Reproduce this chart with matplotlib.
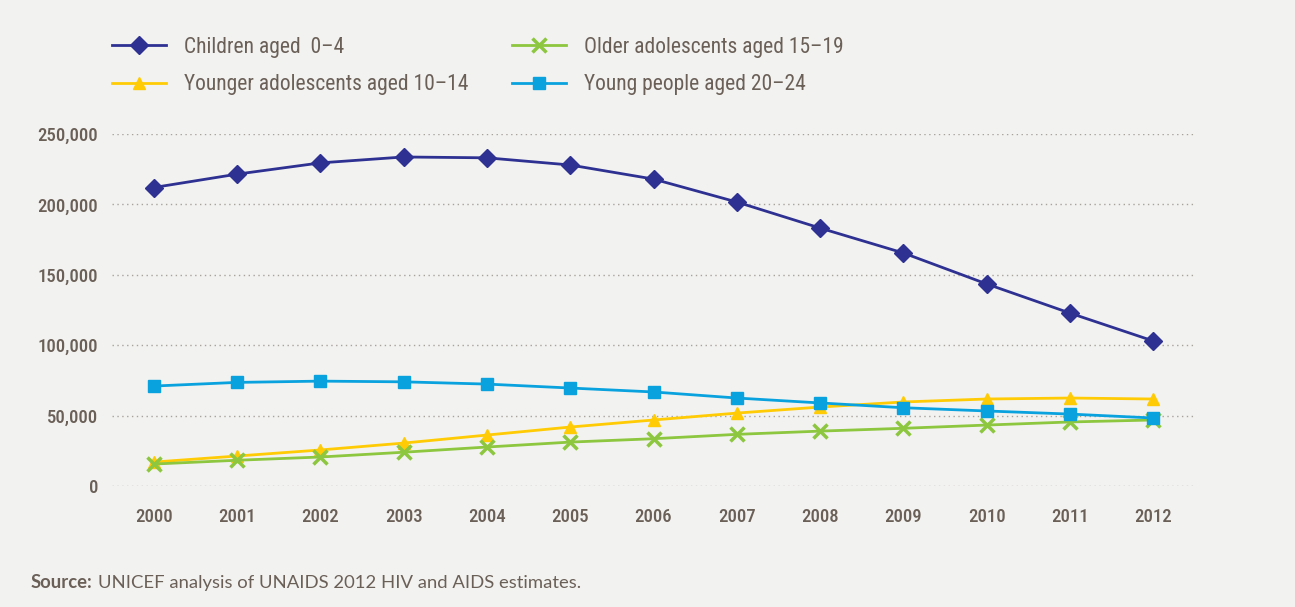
import matplotlib
matplotlib.use("Agg")
import matplotlib.pyplot as plt
from matplotlib import font_manager
from matplotlib.font_manager import FontProperties
from matplotlib.ticker import FuncFormatter

years = [2000, 2001, 2002, 2003, 2004, 2005, 2006, 2007, 2008, 2009, 2010, 2011, 2012]
children_0_4 = [212000, 221500, 229500, 233700, 233100, 228000, 218000, 201700, 183200, 165500, 143500, 122800, 103000]
younger_10_14 = [17000, 21300, 25600, 30500, 36200, 41900, 46900, 51800, 56100, 59700, 61800, 62500, 61800]
older_15_19 = [15600, 18300, 20600, 24000, 27700, 31200, 33600, 36700, 39000, 41000, 43300, 45500, 46900]
young_20_24 = [71000, 73600, 74500, 74000, 72400, 69600, 66800, 62500, 59000, 55600, 53300, 51100, 48300]
yticks = [0, 50000, 100000, 150000, 200000, 250000]

labels = ["Children aged  0\u20134", "Younger adolescents aged 10\u201314",
          "Older adolescents aged 15\u201319", "Young people aged 20\u201324"]


def wnum(w):
    if isinstance(w, int):
        return w
    return {"normal": 400, "regular": 400, "book": 400, "medium": 500,
            "semibold": 600, "bold": 700}.get(str(w).lower(), 400)


def pick_condensed(prefer_weight=500):
    pref = ["Liberation Sans Narrow", "Roboto Condensed", "Roboto", "Open Sans Condensed",
            "Open Sans", "Noto Sans", "DejaVu Sans", "Lato", "Inter"]
    best = None
    for f in font_manager.fontManager.ttflist:
        fn = f.fname.lower()
        cond = ("narrow" in f.name.lower() or "condensed" in f.name.lower()
                or "condensed" in fn or "narrow" in fn
                or f.stretch in ("condensed", "semi-condensed", "extra-condensed"))
        if not cond or f.style != "normal":
            continue
        if "semicondensed" in fn or "semi-condensed" in str(f.stretch) or "extracondensed" in fn:
            sc = 1
        else:
            sc = 0
        w = wnum(f.weight)
        if w not in (400, 500):
            continue
        fam_rank = pref.index(f.name) if f.name in pref else 50
        key = (sc, fam_rank, 0 if w == prefer_weight else 1)
        if best is None or key < best[0]:
            best = (key, f.fname)
    return best[1] if best else None


cond_file = pick_condensed(500)
cond_file_reg = pick_condensed(400)


def fp(size, regular=False):
    f = cond_file_reg if regular else cond_file
    if f:
        return FontProperties(fname=f, size=size)
    return FontProperties(family="Roboto", size=size)


bg = "#f2f2f0"
txt = "#6b6058"
fig = plt.figure(figsize=(12.95, 6.07), dpi=100, facecolor=bg)
ax = fig.add_axes([0.0865, 0.1993, 0.8363, 0.5799])
ax.set_facecolor(bg)

x = list(range(len(years)))
l1, = ax.plot(x, children_0_4, color="#2e3192", lw=2, marker="D", ms=9, clip_on=False, zorder=5)
l2, = ax.plot(x, younger_10_14, color="#ffcb05", lw=2, marker="^", ms=9, clip_on=False, zorder=4)
l3, = ax.plot(x, older_15_19, color="#8dc63f", lw=2, marker="x", ms=10, mew=2.5, clip_on=False, zorder=4)
l4, = ax.plot(x, young_20_24, color="#0aa2de", lw=2, marker="s", ms=9, clip_on=False, zorder=4)

ax.set_xlim(-0.5, 12.5)
ax.set_ylim(0, 250000)
ax.set_yticks(yticks)
ax.yaxis.set_major_formatter(FuncFormatter(lambda v, p: f"{int(v):,}"))
ax.set_xticks(x)
ax.set_xticklabels([str(y) for y in years])
ax.tick_params(length=0, labelcolor=txt)
ax.tick_params(axis='y', pad=10)
ax.tick_params(axis='x', pad=16)
for lab in ax.get_xticklabels() + ax.get_yticklabels():
    lab.set_fontproperties(fp(13.5))
ax.grid(axis='y', linestyle=(0, (1, 2.5)), color="#a8a29d", lw=1)
ax.set_axisbelow(True)
for s in ax.spines.values():
    s.set_visible(False)

legkw = dict(loc="upper left", frameon=False, prop=fp(15.5, regular=True),
             handlelength=2.5, handletextpad=0.85, labelspacing=0.75,
             borderpad=0, borderaxespad=0, labelcolor=txt)
leg1 = fig.legend([l1, l2], labels[:2], bbox_to_anchor=(112 / 1295, 1 - 37 / 607), **legkw)
leg2 = fig.legend([l3, l4], labels[2:], bbox_to_anchor=(512 / 1295, 1 - 37 / 607), **legkw)

t1 = fig.text(31 / 1295, 1 - 583 / 607, "Source:", fontsize=13.3, fontweight="bold",
              family=["Lato", "DejaVu Sans"], color=txt, va="center", ha="left")
fig.canvas.draw()
bb = t1.get_window_extent(renderer=fig.canvas.get_renderer())
fig.text((bb.x1 + 5) / 1295, 1 - 583 / 607, "UNICEF analysis of UNAIDS 2012 HIV and AIDS estimates.",
         fontsize=13.3, family=["Lato", "DejaVu Sans"], color=txt, va="center", ha="left")

fig.savefig("out.png", dpi=100, facecolor=bg)
